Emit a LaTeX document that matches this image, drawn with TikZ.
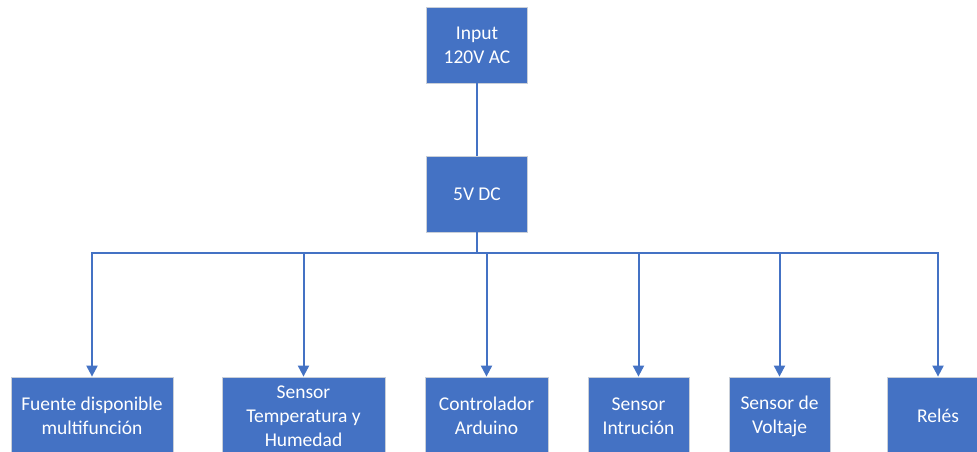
\documentclass[tikz,border=0pt]{standalone}
\usepackage{fontspec}
\setmainfont{Carlito}
\usetikzlibrary{arrows.meta}
\definecolor{offblue}{HTML}{4472C4}
\definecolor{rim}{HTML}{C9CFD8}
\begin{document}
\begin{tikzpicture}[x=1pt,y=-1pt,
  blk/.style={fill=offblue,draw=rim,line width=0.8pt,text=white,align=center,
    font=\fontsize{19.5}{24}\selectfont,inner sep=0pt,minimum height=76pt},
  conn/.style={draw=offblue,line width=2pt},
  arr/.style={conn,-{Triangle[width=11pt,length=11pt]}}]
\useasboundingbox (0,0) rectangle (977,451);
\fill[white] (0,0) rectangle (977,451);
\node[blk,minimum width=101pt] (in) at (477,45) {Input\\120V AC};
\node[blk,minimum width=101pt] (dc) at (477,194) {5V DC};
\node[blk,minimum width=162pt,minimum height=78pt] (c1) at (92,416) {Fuente disponible\\multifunción};
\node[blk,minimum width=163pt,minimum height=78pt] (c2) at (303.5,416) {Sensor\\Temperatura y\\Humedad};
\node[blk,minimum width=123pt,minimum height=78pt] (c3) at (486.5,416) {Controlador\\Arduino};
\node[blk,minimum width=101pt,minimum height=78pt] (c4) at (638.5,416) {Sensor\\Intrución};
\node[blk,minimum width=101pt,minimum height=78pt] (c5) at (779.5,416) {Sensor de\\Voltaje};
\node[blk,minimum width=102pt,minimum height=78pt] (c6) at (938,416) {Relés};
\coordinate (bus) at (477,253);
\draw[conn] (in.south) -- (dc.north);
\foreach \c in {c1,c2,c3,c4,c5,c6}{
  \draw[arr] (dc.south) -- (bus) -| (\c.north);
}
\end{tikzpicture}
\end{document}
